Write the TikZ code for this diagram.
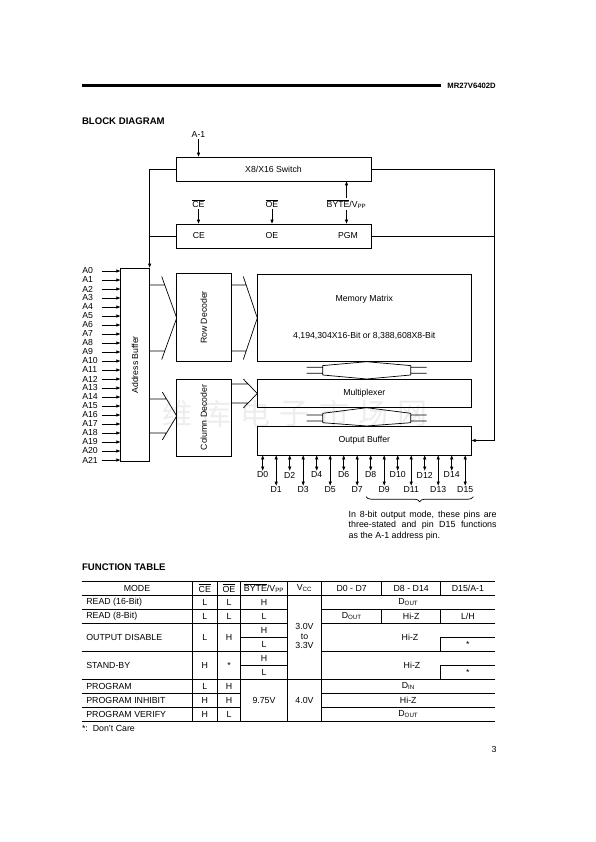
\documentclass[tikz,border=0pt]{standalone}
\usepackage{fontspec}
\setmainfont{Liberation Sans}
\newfontfamily\cjk{Noto Sans CJK SC}
\usetikzlibrary{arrows.meta,decorations.pathreplacing}

\newcommand{\ovl}[1]{$\overline{\mbox{#1}}$}
% wide bus arrow: start x, barb x, tip x, tip y, shaft half, barb half
\newcommand{\busarr}[6]{%
  \pgfmathsetmacro\xcut{#2+(#3-#2)*(#6-#5)/#6}
  \draw (#1,#4-#5) -- (\xcut,#4-#5) (#2,#4-#6) -- (#3,#4) -- (#2,#4+#6)
        (#1,#4+#5) -- (\xcut,#4+#5);}
% two way bus between stacked blocks: middle y, top y, bottom y
\newcommand{\dblbus}[3]{%
  \draw (306.7,#1-3) -- (322.7,#1-3) (306.7,#1+3) -- (322.7,#1+3)
        (426.7,#1-3) -- (410.7,#1-3) (426.7,#1+3) -- (410.7,#1+3)
        (322.7,#1-4.7) -- (322.7,#1+4.7) (410.7,#1-4.7) -- (410.7,#1+4.7)
        (322.7,#1-4.7) -- (366.7,#2) -- (410.7,#1-4.7)
        (322.7,#1+4.7) -- (366.7,#3) -- (410.7,#1+4.7);}

\begin{document}
\begin{tikzpicture}[x=1pt,y=-1pt,line width=.7pt,
  blk/.style={draw, inner sep=0pt, font=\fontsize{8.7}{10}\selectfont},
  lbl/.style={inner sep=1pt, font=\fontsize{8.7}{10}\selectfont},
  sig/.style={-{Triangle[length=4pt,width=3pt]}},
  bidir/.style={{Triangle[length=4pt,width=3pt]}-{Triangle[length=4pt,width=3pt]}},
  tcell/.style={inner sep=0pt, font=\fontsize{8.8}{10}\selectfont},
  head/.style={anchor=west, inner sep=0pt, font=\fontsize{9.6}{11}\selectfont\bfseries}]
\useasboundingbox (0,0) rectangle (595,842);

% page header
\fill (81.7,84.3) rectangle (440.7,87.3);
\node[anchor=west, inner sep=0pt, font=\fontsize{7.7}{9}\selectfont\bfseries] (pn) at (447,86) {MR27V6402D};
\node[head] (bd) at (81.7,121) {BLOCK DIAGRAM};

% watermark
\foreach \ch [count=\k from 0] in {维,库,电,子,市,场,网}
  \node[text=gray!14, font=\cjk\fontsize{30}{30}\selectfont, inner sep=0pt] (wm\k) at (177+39.3*\k,414) {\ch};

% blocks
\node[blk, minimum width=195, minimum height=24] (sw) at (273.5,169) {X8/X16 Switch};
\node[blk, minimum width=195, minimum height=24] (ctl) at (273.5,236) {};
\node[lbl] (cein) at (199,236) {CE};
\node[lbl] (oein) at (272,236) {OE};
\node[lbl] (pgm) at (348,236) {PGM};
\node[blk, minimum width=28.6, minimum height=193.7] (ab) at (135,364.85) {};
\node[lbl, rotate=90] (abt) at (ab) {Address Buffer};
\node[blk, minimum width=54.3, minimum height=88.4] (rd) at (203.85,317.5) {};
\node[lbl, rotate=90] (rdt) at (rd) {Row Decoder};
\node[blk, minimum width=54.3, minimum height=77] (cd) at (203.85,417.5) {};
\node[lbl, rotate=90] (cdt) at (cd) {Column Decoder};
\node[blk, minimum width=214, minimum height=87.7] (mm) at (364.3,317.85) {};
\node[lbl] (mmt) at (364.3,299) {Memory Matrix};
\node[lbl] (mmc) at (364.3,336) {4,194,304X16-Bit or 8,388,608X8-Bit};
\node[blk, minimum width=214, minimum height=28.7] (mux) at (364.3,393.35) {Multiplexer};
\node[blk, minimum width=214, minimum height=29] (ob) at (364.3,440.5) {Output Buffer};

% control inputs
\node[lbl] (am1) at (198.5,135) {A-1};
\node[lbl] (ceb) at (198.5,204) {\ovl{CE}};
\node[lbl] (oeb) at (272,204) {\ovl{OE}};
\node[lbl] (byb) at (346.5,204) {\ovl{BYTE}/V\textsubscript{PP}};
\draw[sig] (am1) -- (am1 |- sw.north);
\draw[sig] (ceb) -- (ceb |- ctl.north);
\draw[sig] (oeb) -- (oeb |- ctl.north);
\draw[sig] (byb) -- (byb |- ctl.north);
\draw[sig] (byb) -- (byb |- sw.south);

% side lines
\coordinate (rt) at (494.5,0);
\draw[sig] (sw.west) -| (ab.north east);
\draw (ctl.west) -- (ctl.west -| ab.east);
\draw[sig] (sw.east) -- (sw.east -| rt) |- (ob.east);
\draw (ctl.east) -- (ctl.east -| rt);

% buses
\busarr{149.3}{161.7}{176.7}{318}{33}{41.5}
\busarr{231}{243.3}{257.3}{318}{33}{41.5}
\busarr{149.3}{162.3}{176.7}{416}{17}{24}
\busarr{231}{243.3}{257.3}{393.5}{9.5}{14.5}
\dblbus{370.3}{361.7}{379}
\dblbus{418}{407.7}{426}

% address pins
\foreach \i in {0,...,21}{
  \node[lbl, anchor=west, inner sep=0pt] (a\i) at (82,271+9*\i) {A\i};
  \coordinate (s\i) at (101.7,271+9*\i);
  \draw[sig] (s\i) -- (s\i -| ab.west);
}

% data pins
\foreach \i in {0,...,15}{
  \pgfmathsetmacro\px{262.7+13.5*\i}
  \pgfmathsetmacro\py{mod(\i,2)==1 ? 490 : 475}
  \node[lbl] (d\i) at (\px,\py) {D\i};
  \draw[bidir] (d\i) -- (d\i |- ob.south);
}
\draw[decorate, decoration={brace, amplitude=5pt, mirror}] (366,496.7) -- (473.3,496.7);
\node[anchor=north west, inner sep=0pt, align=left, font=\fontsize{8.9}{10.4}\selectfont] (note) at (348.3,510.5)
  {\makebox[148pt][s]{In 8-bit output mode, these pins are}\\
   \makebox[148pt][s]{three-stated and pin D15 functions}\\
   as the A-1 address pin.};

% function table
\node[head] (ft) at (81.7,566.7) {FUNCTION TABLE};
\draw (81.7,581) -- (495,581) (81.7,595) -- (495,595) (81.7,679) -- (495,679) (81.7,721) -- (495,721);
\foreach \y in {609,623,651} \draw (81.7,\y) -- (287.3,\y) (321.7,\y) -- (495,\y);
\foreach \y in {693,707} \draw (81.7,\y) -- (240.7,\y) (321.7,\y) -- (495,\y);
\foreach \y in {637,665} \draw (240.7,\y) -- (287.3,\y) (440.7,\y) -- (495,\y);
\foreach \x in {192.3,217.3,240.7,287.3,321.7} \draw (\x,581) -- (\x,721);
\foreach \x in {381.7,440.7} \draw (\x,581) -- (\x,595) (\x,609) -- (\x,623);
\draw (440.7,637) -- (440.7,651) (440.7,665) -- (440.7,679);

\node[tcell] (hmode) at (137,588) {MODE};
\node[tcell] (hce) at (204.8,588) {\ovl{CE}};
\node[tcell] (hoe) at (229,588) {\ovl{OE}};
\node[tcell] (hby) at (264,588) {\ovl{BYTE}/V\textsubscript{PP}};
\node[tcell] (hvcc) at (304.5,588) {V\textsubscript{CC}};
\node[tcell] (hd0) at (351.7,588) {D0 - D7};
\node[tcell] (hd8) at (411.2,588) {D8 - D14};
\node[tcell] (hd15) at (467.9,588) {D15/A-1};

\foreach \n/\y/\m/\c/\o in {1/602/READ (16-Bit)/L/L, 2/616/READ (8-Bit)/L/L,
    3/637/OUTPUT DISABLE/L/H, 4/665/STAND-BY/H/*, 5/686/PROGRAM/L/H,
    6/700/PROGRAM INHIBIT/H/H, 7/714/PROGRAM VERIFY/H/L}{
  \node[tcell, anchor=west] (m\n) at (86,\y) {\m};
  \node[tcell] (ce\n) at (204.8,\y) {\c};
  \node[tcell] (oe\n) at (229,\y) {\o};
}
\foreach \n/\y/\v in {1/602/H, 2/616/L, 3/630/H, 4/644/L, 5/658/H, 6/672/L}
  \node[tcell] (by\n) at (264,\y) {\v};
\node[tcell, align=center, font=\fontsize{8.8}{9.7}\selectfont] (vcca) at (304.5,636) {3.0V\\to\\3.3V};
\node[tcell] (vpp) at (264,700) {9.75V};
\node[tcell] (vccb) at (304.5,700) {4.0V};

\node[tcell] (o1) at (408.3,602) {D\textsubscript{OUT}};
\node[tcell] (o2a) at (351.7,616) {D\textsubscript{OUT}};
\node[tcell] (o2b) at (411.2,616) {Hi-Z};
\node[tcell] (o2c) at (467.9,616) {L/H};
\node[tcell] (o3) at (410,637) {Hi-Z};
\node[tcell] (o3s) at (467.9,644) {*};
\node[tcell] (o4) at (412,665) {Hi-Z};
\node[tcell] (o4s) at (467.9,672) {*};
\node[tcell] (o5) at (408.3,686) {D\textsubscript{IN}};
\node[tcell] (o6) at (408.3,700) {Hi-Z};
\node[tcell] (o7) at (408.3,714) {D\textsubscript{OUT}};

\node[tcell, anchor=west] (fn) at (81.7,728) {*:\ \ Don't Care};
\node[tcell] (pg) at (494,749.5) {3};
\end{tikzpicture}
\end{document}
